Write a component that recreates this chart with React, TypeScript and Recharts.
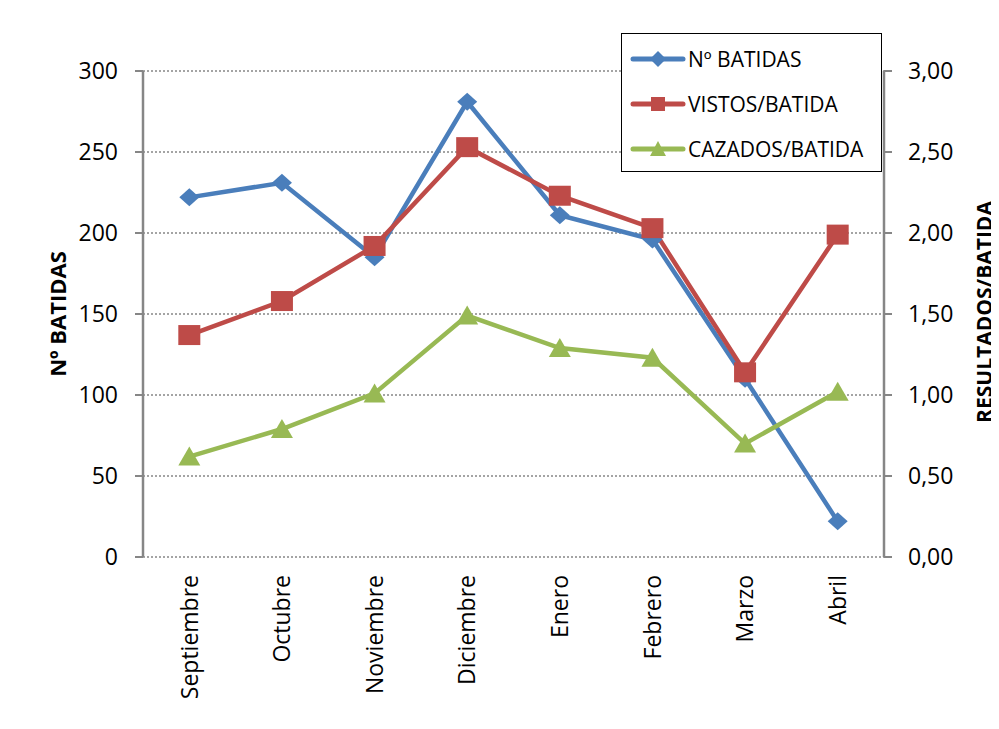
import React from 'react';
import { ComposedChart, Line, XAxis, YAxis, CartesianGrid, Legend } from 'recharts';

const months = ['Septiembre', 'Octubre', 'Noviembre', 'Diciembre', 'Enero', 'Febrero', 'Marzo', 'Abril'];
const batidas = [222, 231, 185, 281, 211, 196, 110, 22];
const vistos = [1.37, 1.58, 1.92, 2.53, 2.23, 2.03, 1.14, 1.99];
const cazados = [0.62, 0.79, 1.01, 1.49, 1.29, 1.23, 0.7, 1.02];
const leftTicks = [0, 50, 100, 150, 200, 250, 300];
const rightTicks = [0, 0.5, 1, 1.5, 2, 2.5, 3];
const boundTicks = [0, 1, 2, 3, 4, 5, 6, 7, 8];

const seriesNames = ['Nº BATIDAS', 'VISTOS/BATIDA', 'CAZADOS/BATIDA'];
const BLUE = '#4A7EBB';
const RED = '#BE4B48';
const GREEN = '#98B954';
const AXIS = '#868686';
const FONT = '"Open Sans", sans-serif';

const data = months.map((m, i) => ({
  month: m,
  idx: i + 0.5,
  batidas: batidas[i],
  vistos: vistos[i],
  cazados: cazados[i],
}));

const Diamond = (props: any) => {
  const { cx, cy, fill } = props;
  if (cx == null || cy == null) return <g key={props.key} />;
  return (
    <polygon
      key={props.key}
      points={`${cx},${cy - 9} ${cx + 10},${cy} ${cx},${cy + 9} ${cx - 10},${cy}`}
      fill={fill}
    />
  );
};

const Square = (props: any) => {
  const { cx, cy, fill } = props;
  if (cx == null || cy == null) return <g key={props.key} />;
  return <rect key={props.key} x={cx - 11} y={cy - 10} width={22} height={20} fill={fill} />;
};

const Triangle = (props: any) => {
  const { cx, cy, fill } = props;
  if (cx == null || cy == null) return <g key={props.key} />;
  return (
    <polygon
      key={props.key}
      points={`${cx},${cy - 10} ${cx + 11},${cy + 9} ${cx - 11},${cy + 9}`}
      fill={fill}
    />
  );
};

const MonthTick = (props: any) => {
  const { x, y, payload } = props;
  return (
    <g transform={`translate(${x},${y + 10}) rotate(-90)`}>
      <text textAnchor="end" dy="0.36em" fontSize={23} fontFamily={FONT} fill="#000">
        {payload.value}
      </text>
    </g>
  );
};

const EmptyTick = () => <g />;

const LegendIcon = ({ color, kind }: { color: string; kind: string }) => (
  <svg width={56} height={24} style={{ display: 'block' }}>
    <line x1={3} y1={12} x2={53} y2={12} stroke={color} strokeWidth={5} strokeLinecap="round" />
    {kind === 'diamond' && <polygon points="28,4 36,12 28,20 20,12" fill={color} />}
    {kind === 'square' && <rect x={21} y={5} width={14} height={14} fill={color} />}
    {kind === 'triangle' && <polygon points="28,4 36,19 20,19" fill={color} />}
  </svg>
);

const legendItems = [
  { name: seriesNames[0], color: BLUE, kind: 'diamond' },
  { name: seriesNames[1], color: RED, kind: 'square' },
  { name: seriesNames[2], color: GREEN, kind: 'triangle' },
];

const LegendBox = () => (
  <div
    style={{
      width: 259,
      height: 137,
      border: '1.5px solid #000',
      background: '#fff',
      boxSizing: 'content-box',
      fontFamily: FONT,
    }}
  >
    {legendItems.map((it, i) => (
      <div
        key={i}
        style={{ display: 'flex', alignItems: 'center', height: 45, paddingLeft: 8, marginTop: i === 0 ? 2 : 0 }}
      >
        <LegendIcon color={it.color} kind={it.kind} />
        <span style={{ fontSize: 21, color: '#000', marginLeft: 2, whiteSpace: 'nowrap' }}>{it.name}</span>
      </div>
    ))}
  </div>
);

const LeftTitle = (props: any) => {
  const vb = props.viewBox || {};
  const cx = (vb.x || 0) + 49;
  const cy = (vb.y || 0) + (vb.height || 0) / 2;
  return (
    <text
      x={cx}
      y={cy}
      transform={`rotate(-90, ${cx}, ${cy})`}
      textAnchor="middle"
      dominantBaseline="central"
      fontSize={22}
      fontWeight="bold"
      fontFamily={FONT}
      fill="#000"
    >
      Nº BATIDAS
    </text>
  );
};

const RightTitle = (props: any) => {
  const vb = props.viewBox || {};
  const cx = (vb.x || 0) + 100;
  const cy = (vb.y || 0) + (vb.height || 0) / 2 - 2;
  return (
    <text
      x={cx}
      y={cy}
      transform={`rotate(-90, ${cx}, ${cy})`}
      textAnchor="middle"
      dominantBaseline="central"
      fontSize={21}
      fontWeight="bold"
      fontFamily={FONT}
      fill="#000"
    >
      RESULTADOS/BATIDA
    </text>
  );
};

export default function App() {
  return (
    <div style={{ marginLeft: -1, borderLeft: '1px solid #8A8A8A', width: 991, height: 713, fontFamily: FONT }}>
      <ComposedChart
        width={991}
        height={713}
        data={data}
        margin={{ top: 63, right: 0, bottom: 0, left: 0 }}
      >
        <CartesianGrid
          vertical={false}
          yAxisId="left"
          xAxisId="cat"
          stroke={AXIS}
          strokeWidth={1.5}
          strokeDasharray="2 2"
        />
        <XAxis
          xAxisId="bounds"
          dataKey="idx"
          type="number"
          domain={[0, 8]}
          allowDataOverflow
          ticks={boundTicks}
          interval={0}
          height={0}
          axisLine={{ stroke: AXIS, strokeWidth: 2.5 }}
          tickLine={{ stroke: AXIS, strokeWidth: 2 }}
          tickSize={8}
          tick={EmptyTick}
        />
        <XAxis
          xAxisId="cat"
          dataKey="month"
          scale="band"
          height={164}
          axisLine={false}
          tickLine={false}
          interval={0}
          tick={MonthTick}
        />
        <YAxis
          yAxisId="left"
          orientation="left"
          width={135}
          domain={[0, 300]}
          ticks={leftTicks}
          interval={0}
          axisLine={{ stroke: AXIS, strokeWidth: 2.5 }}
          tickLine={{ stroke: AXIS, strokeWidth: 2 }}
          tickSize={8}
          tickMargin={17}
          tick={{ fontSize: 23, fill: '#000', fontFamily: FONT }}
          label={<LeftTitle />}
        />
        <YAxis
          yAxisId="right"
          orientation="right"
          width={115}
          domain={[0, 3]}
          ticks={rightTicks}
          interval={0}
          axisLine={{ stroke: AXIS, strokeWidth: 2.5 }}
          tickLine={{ stroke: AXIS, strokeWidth: 2 }}
          tickSize={8}
          tickMargin={16}
          tickFormatter={(v: number) => v.toFixed(2).replace('.', ',')}
          tick={{ fontSize: 23, fill: '#000', fontFamily: FONT }}
          label={<RightTitle />}
        />
        <Legend
          layout="horizontal"
          align="center"
          verticalAlign="middle"
          wrapperStyle={{ position: 'absolute', left: 613, top: 25, width: 262, right: 'auto', bottom: 'auto' }}
          content={() => <LegendBox />}
        />
        <Line
          xAxisId="cat"
          yAxisId="left"
          type="linear"
          dataKey="batidas"
          name={seriesNames[0]}
          stroke={BLUE}
          strokeWidth={4.5}
          fill={BLUE}
          dot={(p: any) => <Diamond {...p} fill={BLUE} />}
          activeDot={false}
          isAnimationActive={false}
        />
        <Line
          xAxisId="cat"
          yAxisId="right"
          type="linear"
          dataKey="vistos"
          name={seriesNames[1]}
          stroke={RED}
          strokeWidth={4.5}
          fill={RED}
          dot={(p: any) => <Square {...p} fill={RED} />}
          activeDot={false}
          isAnimationActive={false}
        />
        <Line
          xAxisId="cat"
          yAxisId="right"
          type="linear"
          dataKey="cazados"
          name={seriesNames[2]}
          stroke={GREEN}
          strokeWidth={4.5}
          fill={GREEN}
          dot={(p: any) => <Triangle {...p} fill={GREEN} />}
          activeDot={false}
          isAnimationActive={false}
        />
      </ComposedChart>
    </div>
  );
}
